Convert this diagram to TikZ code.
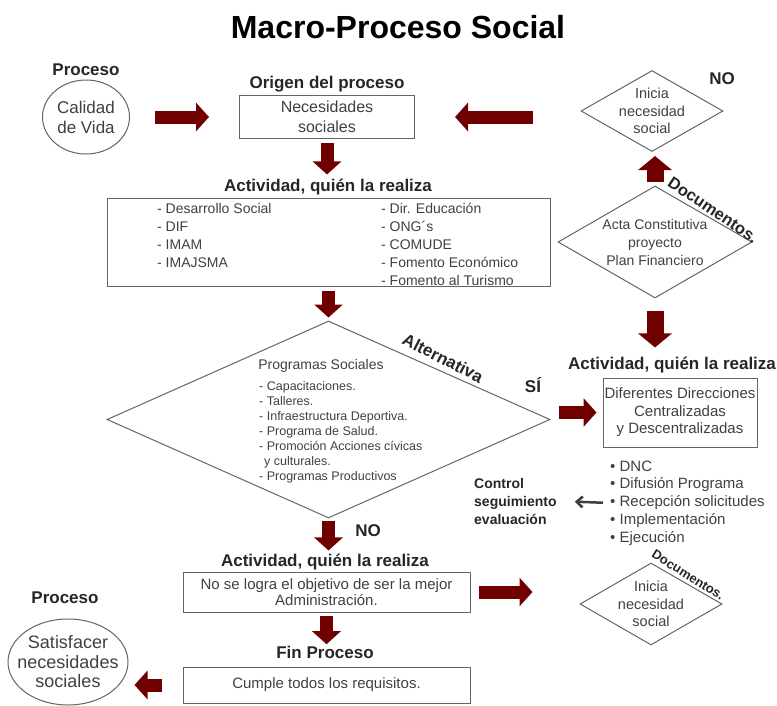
\documentclass[tikz,border=0pt]{standalone}
\usepackage{fontspec}
\setmainfont{Liberation Sans}
\usetikzlibrary{positioning, shapes.geometric, arrows.meta}
\definecolor{ProcRed}{RGB}{112, 0, 0}
\definecolor{TextGray}{RGB}{64, 64, 64}
\definecolor{LineGray}{RGB}{100, 100, 100}

\tikzset{
  head/.style={font=\fontsize{17}{20}\selectfont\bfseries, text=black!85},
  txt/.style={text=TextGray, align=center, inner sep=0pt},
  lst/.style={text=TextGray, align=left, inner sep=0pt, anchor=west},
  box/.style={draw=LineGray, line width=1pt, inner sep=0pt},
  diam/.style={draw=LineGray, line width=1pt, diamond, inner sep=0pt},
  oval/.style={draw=LineGray, line width=1pt, ellipse, inner sep=0pt},
  blockarrow/.style={ProcRed, line width=13pt, -{Triangle[length=13pt, width=28pt]}},
  widearrow/.style={ProcRed, line width=17pt, -{Triangle[length=14pt, width=33pt]}}
}

\begin{document}
\begin{tikzpicture}[x=1pt, y=-1pt]
  \useasboundingbox (0,0) rectangle (777,705);

  % Title
  \node[font=\fontsize{32}{36}\selectfont\bfseries] (title) at (398,27) {Macro-Proceso Social};

  % Origin
  \node[head] (procA) at (86,70) {Proceso};
  \node[oval, minimum width=87pt, minimum height=74pt] (vida) at (86,117) {};
  \node[txt, font=\fontsize{17}{20}\selectfont] (vidatxt) at (vida.center) {Calidad\\de Vida};
  \node[head] (origen) at (327,84) {Origen del proceso};
  \node[box, txt, font=\fontsize{16}{20}\selectfont, minimum width=175pt, minimum height=43pt] (necesidades) at (327,117) {Necesidades\\sociales};
  \draw[blockarrow, shorten <=25pt, shorten >=30pt] (vida) -- (necesidades);

  % Top right diamonds
  \node[diam, minimum width=142pt, minimum height=81pt] (inicia1) at (652,111) {};
  \node[txt, font=\fontsize{14.5}{17.5}\selectfont] (inicia1txt) at (inicia1.center) {Inicia\\necesidad\\social};
  \node[head] (no1) at (722,79) {NO};
  \draw[blockarrow, shorten <=48pt, shorten >=40pt] (necesidades -| inicia1.west) -- (necesidades.east);

  \node[diam, minimum width=194pt, minimum height=112pt] (acta) at (655,242) {};
  \node[txt, font=\fontsize{14}{18}\selectfont] (actatxt) at (acta.center) {Acta Constitutiva\\proyecto\\Plan Financiero};
  \node[head, font=\fontsize{16.5}{19}\selectfont\bfseries, rotate=-34] (docs1) at (713,210) {Documentos.};
  \draw[widearrow, shorten <=4pt, shorten >=4pt] (acta.north) -- (acta.north |- inicia1.south);

  % First activity
  \node[head] (act1head) at (328,187) {Actividad, quién la realiza};
  \node[box, minimum width=443pt, minimum height=88pt] (act1) at (328.5,242) {};
  \node[lst, font=\fontsize{14}{18}\selectfont] (act1left) at (157,235) {- Desarrollo Social\\- DIF\\- IMAM\\- IMAJSMA};
  \node[lst, font=\fontsize{14}{18}\selectfont] (act1right) at (381,244) {- Dir. Educación\\- ONG´s\\- COMUDE\\- Fomento Económico\\- Fomento al Turismo};
  \draw[blockarrow, shorten <=4pt, shorten >=1pt] (necesidades.south) -- (necesidades.south |- act1head.north);

  % Social programmes
  \node[diam, minimum width=443pt, minimum height=197pt] (prog) at (328.5,419.5) {};
  \node[txt, font=\fontsize{14}{17}\selectfont] (progtitle) at (321,366) {Programas Sociales};
  \node[lst, font=\fontsize{12.5}{15}\selectfont] (proglist) at (259,432) {- Capacitaciones.\\- Talleres.\\- Infraestructura Deportiva.\\- Programa de Salud.\\- Promoción Acciones cívicas\\\hspace{5pt}y culturales.\\- Programas Productivos};
  \node[head, rotate=-27] (alt) at (443,358) {Alternativa};
  \node[head] (si) at (533,385) {SÍ};
  \draw[blockarrow, shorten <=4pt, shorten >=3pt] (act1.south) -- (prog.north);

  % Second activity (SI)
  \node[head] (act2head) at (672,365) {Actividad, quién la realiza};
  \node[box, txt, font=\fontsize{15}{17.5}\selectfont, minimum width=154pt, minimum height=69pt] (direc) at (680,412.5) {Diferentes Direcciones\\Centralizadas\\y Descentralizadas};
  \draw[widearrow, shorten <=12pt, shorten >=6pt] (acta.south) -- (acta.south |- act2head.north);
  \draw[blockarrow, shorten <=8pt, shorten >=6pt] (direc.west -| prog.east) -- (direc.west);

  \node[lst, font=\fontsize{15}{17.8}\selectfont] (tareas) at (610,503) {• DNC\\• Difusión Programa\\• Recepción solicitudes\\• Implementación\\• Ejecución};
  \node[lst, head, font=\fontsize{14}{18}\selectfont\bfseries] (control) at (474,501) {Control\\seguimiento\\evaluación};
  \draw[-{Straight Barb[length=6pt, width=11pt]}, TextGray, line width=2.5pt, shorten <=7pt, shorten >=18pt] (tareas.west) -- (control.east);

  % Third activity (NO)
  \node[head] (no2) at (368,531) {NO};
  \node[head] (act3head) at (325,562) {Actividad, quién la realiza};
  \node[box, txt, font=\fontsize{15}{16.5}\selectfont, minimum width=287pt, minimum height=40pt] (nologra) at (326.5,592) {No se logra el objetivo de ser la mejor\\Administración.};
  \draw[blockarrow, shorten <=2pt, shorten >=0pt] (prog.south) -- (prog.south |- act3head.north);

  \node[diam, minimum width=142pt, minimum height=82pt] (inicia2) at (651,604) {};
  \node[txt, font=\fontsize{14.5}{17.5}\selectfont] (inicia2txt) at (inicia2.center) {Inicia\\necesidad\\social};
  \node[head, font=\fontsize{13}{15}\selectfont\bfseries, rotate=-32] (docs2) at (688,575) {Documentos.};
  \draw[blockarrow, shorten <=8pt, shorten >=47pt] (nologra.east) -- (nologra.east -| inicia2.west);

  % End of process
  \node[head] (finhead) at (325,652) {Fin Proceso};
  \node[box, txt, font=\fontsize{15}{18}\selectfont, minimum width=287pt, minimum height=36pt] (cumple) at (326.5,685) {Cumple todos los requisitos.};
  \draw[blockarrow, shorten <=3pt, shorten >=-2pt] (nologra.south) -- (nologra.south |- finhead.north);

  \node[head] (procB) at (65,598) {Proceso};
  \node[oval, minimum width=120pt, minimum height=86pt] (satisf) at (68,662) {};
  \node[txt, font=\fontsize{18}{19.5}\selectfont] (satisftxt) at (satisf.center) {Satisfacer\\necesidades\\sociales};
  \draw[blockarrow, shorten <=21pt, shorten >=6pt] (cumple.west) -- (cumple.west -| satisf.east);
\end{tikzpicture}
\end{document}
